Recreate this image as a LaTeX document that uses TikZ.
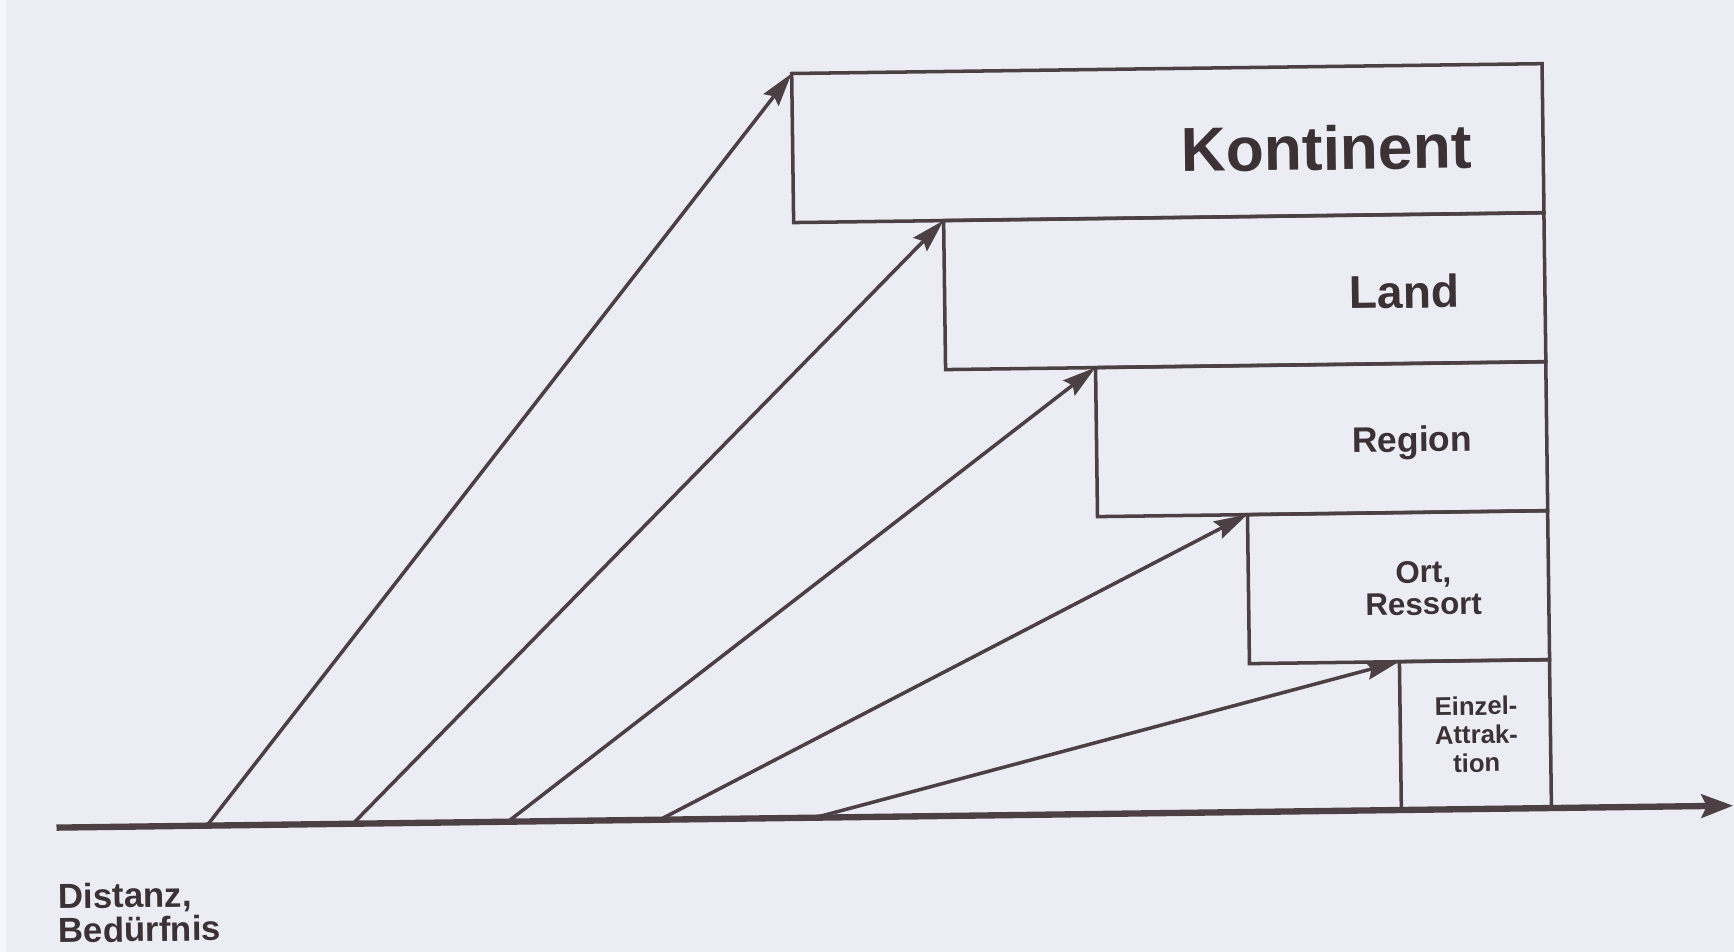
\documentclass[tikz,border=0pt]{standalone}
\usepackage{fontspec}
\setmainfont{Liberation Sans}
\usetikzlibrary{arrows.meta}
\definecolor{paper}{RGB}{236,237,244}
\definecolor{ink}{RGB}{76,64,68}
\definecolor{inktext}{RGB}{60,50,54}
\begin{document}
\begin{tikzpicture}[x=0.01cm,y=-0.01cm,
  stepbox/.style={draw=ink,line width=1pt,inner sep=0pt,outer sep=0pt,
    anchor=north west,minimum height=1.49cm,transform shape},
  reach/.style={draw=ink,line width=1pt,
    -{Stealth[length=9.5pt,width=5.4pt,inset=1.3pt]}},
  axisline/.style={draw=ink,line width=1.8pt,
    -{Stealth[length=9pt,width=6.6pt,inset=1.5pt]}},
  lbl/.style={text=inktext,inner sep=0pt,anchor=base,transform shape}]
% page
\fill[paper] (0,0) rectangle (1734,952);
\fill[white!60!paper] (0,0) rectangle (6,952);
\useasboundingbox (0,0) rectangle (1734,952);
\begin{scope}[rotate around={0.75:(870,480)}]
  % nested levels, from the continent down to the single attraction
  \node[stepbox,minimum width=7.50cm] (kont)   at (797,72.5)   {};
  \node[stepbox,minimum width=6.00cm] (land)   at (947,221.5)  {};
  \node[stepbox,minimum width=4.50cm] (region) at (1097,370.5) {};
  \node[stepbox,minimum width=3.00cm] (ort)    at (1247,519.5) {};
  \node[stepbox,minimum width=1.50cm,minimum height=1.485cm] (einzel) at (1397,668.5) {};
  % distance / need axis
  \coordinate (ax0) at (52,817);
  \coordinate (ax1) at (1729,817);
  \draw[axisline] (ax0) -- (ax1);
  % start points of the arrows on the axis
  \coordinate (s1) at (202.5,817);
  \coordinate (s2) at (348.5,817);
  \coordinate (s3) at (503.5,817);
  \coordinate (s4) at (655.5,817);
  \coordinate (s5) at (810.5,817);
  \draw[reach] (s1) -- (kont.north west);
  \draw[reach] (s2) -- (land.north west);
  \draw[reach] (s3) -- (region.north west);
  \draw[reach] (s4) -- (ort.north west);
  \draw[reach] (s5) -- (einzel.north west);
  % labels (base = baseline of the last line)
  \node[lbl,font=\bfseries\fontsize{17.7}{20}\selectfont] (tkont) at (1331,176) {Kontinent};
  \node[lbl,font=\bfseries\fontsize{13.1}{15}\selectfont] (tland) at (1406.5,315) {Land};
  \node[lbl,font=\bfseries\fontsize{10.1}{12}\selectfont] (tregion) at (1412.5,459) {Region};
  \node[lbl,align=center,font=\bfseries\fontsize{8.9}{9.1}\selectfont] (tort) at (1422,622) {Ort,\\Ressort};
  \node[lbl,align=center,font=\bfseries\fontsize{7.3}{8.1}\selectfont] (teinzel) at (1473,780) {Einzel-\\Attrak-\\tion};
  \node[lbl,anchor=base west,align=left,font=\bfseries\fontsize{9.9}{9.7}\selectfont] (tdist) at (52,932) {Distanz,\\Bedürfnis};
\end{scope}
\end{tikzpicture}
\end{document}
